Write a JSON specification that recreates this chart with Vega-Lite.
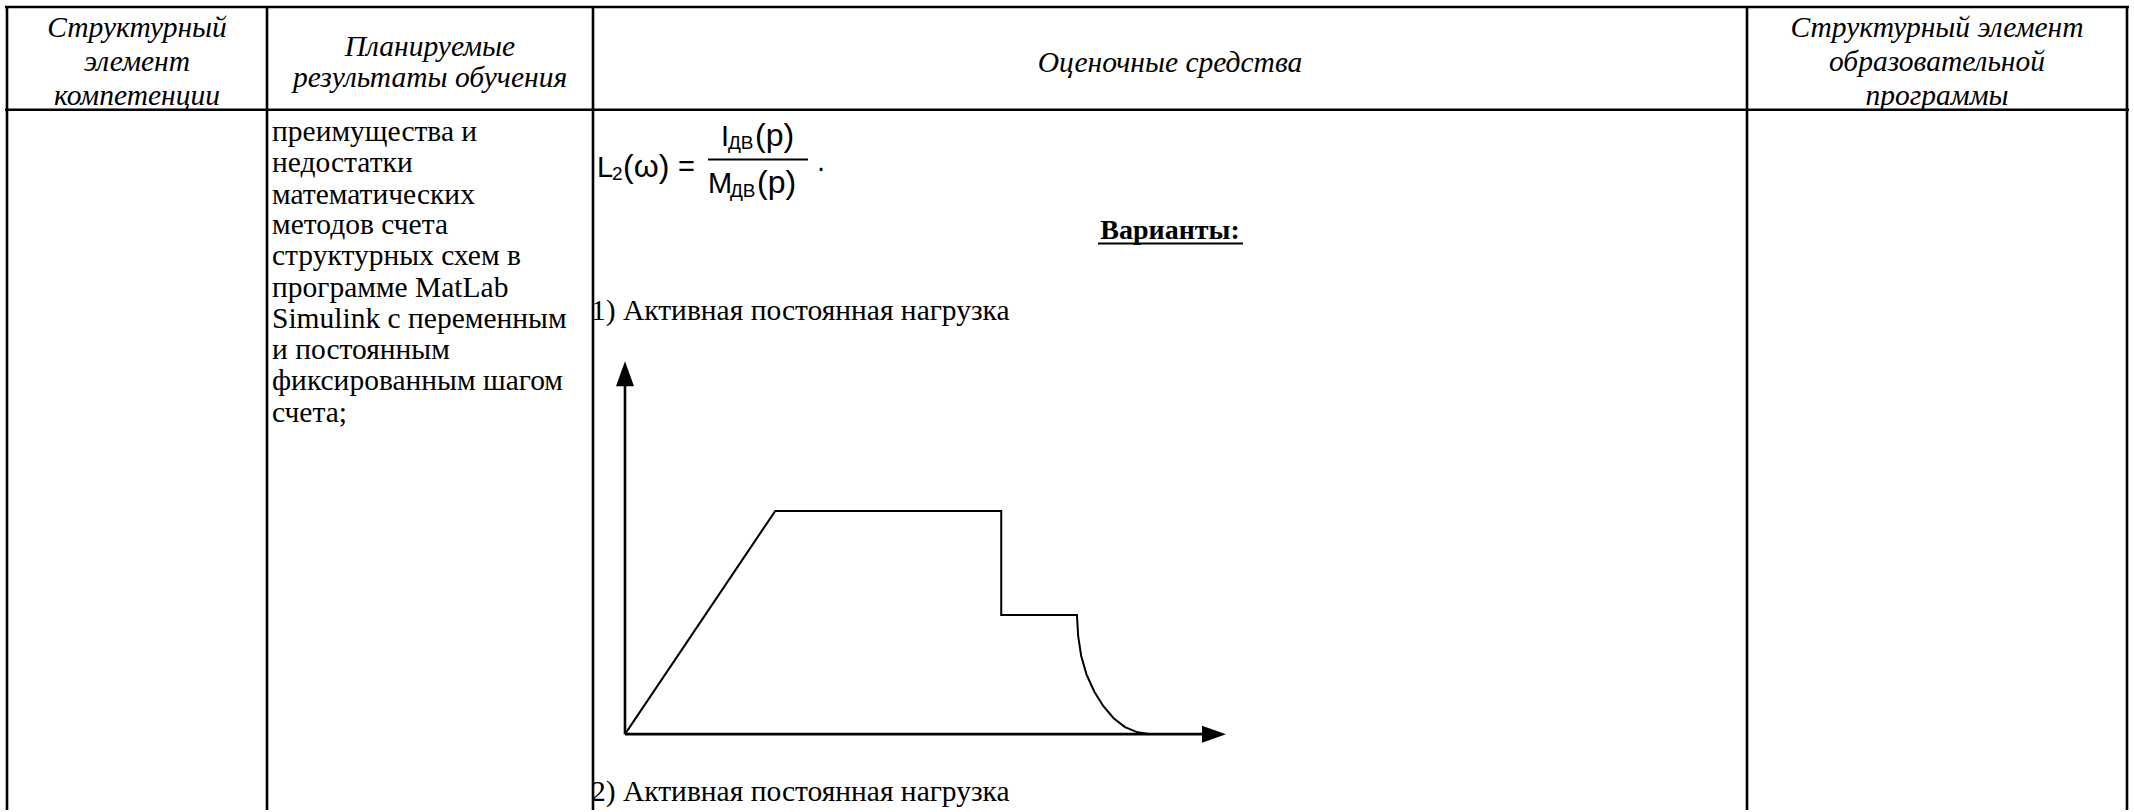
{
  "$schema": "https://vega.github.io/schema/vega-lite/v6.json",
  "width": 2134,
  "height": 812,
  "padding": 0,
  "autosize": {"type": "fit", "contains": "padding"},
  "background": "white",
  "config": {"view": {"stroke": null}},
  "datasets": {
    "borders": [
      {"x": 5, "y": 7, "x2": 2129, "y2": 7},
      {"x": 5, "y": 110, "x2": 2129, "y2": 110},
      {"x": 7, "y": 7, "x2": 7, "y2": 812},
      {"x": 267, "y": 7, "x2": 267, "y2": 812},
      {"x": 593, "y": 7, "x2": 593, "y2": 812},
      {"x": 1747, "y": 7, "x2": 1747, "y2": 812},
      {"x": 2127, "y": 7, "x2": 2127, "y2": 812}
    ],
    "strokes": [
      {"x": 1098, "y": 244, "x2": 1243, "y2": 244},
      {"x": 708, "y": 160, "x2": 808, "y2": 160}
    ],
    "texts": [
      {"role": "head", "text": "Структурный", "x": 137, "y": 28},
      {"role": "head", "text": "элемент", "x": 137, "y": 62},
      {"role": "head", "text": "компетенции", "x": 137, "y": 96},
      {"role": "head", "text": "Планируемые", "x": 430, "y": 47},
      {"role": "head", "text": "результаты обучения", "x": 430, "y": 78},
      {"role": "head", "text": "Оценочные средства", "x": 1170, "y": 63},
      {"role": "head", "text": "Структурный элемент", "x": 1937, "y": 28},
      {"role": "head", "text": "образовательной", "x": 1937, "y": 62},
      {"role": "head", "text": "программы", "x": 1937, "y": 96},
      {"role": "body", "text": "преимущества и", "x": 272, "y": 132},
      {"role": "body", "text": "недостатки", "x": 272, "y": 163},
      {"role": "body", "text": "математических", "x": 272, "y": 195},
      {"role": "body", "text": "методов счета", "x": 272, "y": 226},
      {"role": "body", "text": "структурных схем в", "x": 272, "y": 257},
      {"role": "body", "text": "программе MatLab", "x": 272, "y": 289},
      {"role": "body", "text": "Simulink с переменным", "x": 272, "y": 320},
      {"role": "body", "text": "и постоянным", "x": 272, "y": 351},
      {"role": "body", "text": "фиксированным шагом", "x": 272, "y": 382},
      {"role": "body", "text": "счета;", "x": 272, "y": 414},
      {"role": "body", "text": "1) Активная постоянная нагрузка", "x": 591, "y": 312},
      {"role": "body", "text": "2) Активная постоянная нагрузка", "x": 591, "y": 794},
      {"role": "bold", "text": "Варианты:", "x": 1170, "y": 232},
      {"role": "sans", "text": "L", "x": 597, "y": 177},
      {"role": "sub", "text": "2", "x": 612, "y": 180},
      {"role": "paren", "text": "(ω)", "x": 623, "y": 177},
      {"role": "sans", "text": "=", "x": 678, "y": 176},
      {"role": "sans", "text": "I", "x": 721, "y": 146},
      {"role": "sub", "text": "ДВ", "x": 728, "y": 149},
      {"role": "paren", "text": "(p)", "x": 755, "y": 146},
      {"role": "sans", "text": "M", "x": 708, "y": 193},
      {"role": "sub", "text": "ДВ", "x": 730, "y": 197},
      {"role": "paren", "text": "(p)", "x": 757, "y": 193},
      {"role": "sans", "text": ".", "x": 817, "y": 171}
    ],
    "load": [
      {"i": 0, "t": 0, "v": 0},
      {"i": 1, "t": 25, "v": 60},
      {"i": 2, "t": 62.6, "v": 60},
      {"i": 3, "t": 62.6, "v": 32},
      {"i": 4, "t": 75.2, "v": 32},
      {"i": 5, "t": 75.4, "v": 26.4},
      {"i": 6, "t": 75.9, "v": 21.1},
      {"i": 7, "t": 76.8, "v": 16},
      {"i": 8, "t": 78.1, "v": 11.4},
      {"i": 9, "t": 79.6, "v": 7.5},
      {"i": 10, "t": 81.3, "v": 4.3},
      {"i": 11, "t": 83.2, "v": 1.9},
      {"i": 12, "t": 85.3, "v": 0.5},
      {"i": 13, "t": 87.4, "v": 0}
    ],
    "axes": [
      {"t": 0, "v": 0, "t2": 0, "v2": 94},
      {"t": 0, "v": 0, "t2": 97, "v2": 0}
    ],
    "arrows": [
      {"axis": "y", "t": 0, "v": 96.9},
      {"axis": "x", "t": 98, "v": 0}
    ]
  },
  "layer": [
    {
      "layer": [
        {
          "data": {"name": "borders"},
          "mark": {"type": "rule", "color": "#000", "strokeWidth": 2.6},
          "encoding": {
            "x": {"field": "x", "type": "quantitative", "scale": {"domain": [0, 2134], "nice": false, "zero": false}, "axis": null},
            "y": {"field": "y", "type": "quantitative", "scale": {"domain": [0, 812], "nice": false, "zero": false, "reverse": true}, "axis": null},
            "x2": {"field": "x2"},
            "y2": {"field": "y2"}
          }
        },
        {
          "data": {"name": "strokes"},
          "mark": {"type": "rule", "color": "#000", "strokeWidth": 2},
          "encoding": {
            "x": {"field": "x", "type": "quantitative", "scale": {"domain": [0, 2134], "nice": false, "zero": false}, "axis": null},
            "y": {"field": "y", "type": "quantitative", "scale": {"domain": [0, 812], "nice": false, "zero": false, "reverse": true}, "axis": null},
            "x2": {"field": "x2"},
            "y2": {"field": "y2"}
          }
        },
        {
          "data": {"name": "texts"},
          "transform": [{"filter": "datum.role === 'head'"}],
          "mark": {"type": "text", "font": "Liberation Serif, Times New Roman, DejaVu Serif, serif", "fontStyle": "italic", "fontSize": 29.5, "align": "center", "baseline": "middle", "color": "#000"},
          "encoding": {
            "x": {"field": "x", "type": "quantitative", "scale": {"domain": [0, 2134], "nice": false, "zero": false}, "axis": null},
            "y": {"field": "y", "type": "quantitative", "scale": {"domain": [0, 812], "nice": false, "zero": false, "reverse": true}, "axis": null},
            "text": {"field": "text"}
          }
        },
        {
          "data": {"name": "texts"},
          "transform": [{"filter": "datum.role === 'body'"}],
          "mark": {"type": "text", "font": "Liberation Serif, Times New Roman, DejaVu Serif, serif", "fontSize": 29.5, "align": "left", "baseline": "middle", "color": "#000"},
          "encoding": {
            "x": {"field": "x", "type": "quantitative", "scale": {"domain": [0, 2134], "nice": false, "zero": false}, "axis": null},
            "y": {"field": "y", "type": "quantitative", "scale": {"domain": [0, 812], "nice": false, "zero": false, "reverse": true}, "axis": null},
            "text": {"field": "text"}
          }
        },
        {
          "data": {"name": "texts"},
          "transform": [{"filter": "datum.role === 'bold'"}],
          "mark": {"type": "text", "font": "Liberation Serif, Times New Roman, DejaVu Serif, serif", "fontWeight": "bold", "fontSize": 28, "align": "center", "baseline": "middle", "color": "#000"},
          "encoding": {
            "x": {"field": "x", "type": "quantitative", "scale": {"domain": [0, 2134], "nice": false, "zero": false}, "axis": null},
            "y": {"field": "y", "type": "quantitative", "scale": {"domain": [0, 812], "nice": false, "zero": false, "reverse": true}, "axis": null},
            "text": {"field": "text"}
          }
        },
        {
          "data": {"name": "texts"},
          "transform": [{"filter": "datum.role === 'sans'"}],
          "mark": {"type": "text", "font": "Liberation Sans, Arial, sans-serif", "fontSize": 29, "align": "left", "baseline": "alphabetic", "color": "#000"},
          "encoding": {
            "x": {"field": "x", "type": "quantitative", "scale": {"domain": [0, 2134], "nice": false, "zero": false}, "axis": null},
            "y": {"field": "y", "type": "quantitative", "scale": {"domain": [0, 812], "nice": false, "zero": false, "reverse": true}, "axis": null},
            "text": {"field": "text"}
          }
        },
        {
          "data": {"name": "texts"},
          "transform": [{"filter": "datum.role === 'paren'"}],
          "mark": {"type": "text", "font": "Liberation Sans, Arial, sans-serif", "fontSize": 32, "align": "left", "baseline": "alphabetic", "color": "#000"},
          "encoding": {
            "x": {"field": "x", "type": "quantitative", "scale": {"domain": [0, 2134], "nice": false, "zero": false}, "axis": null},
            "y": {"field": "y", "type": "quantitative", "scale": {"domain": [0, 812], "nice": false, "zero": false, "reverse": true}, "axis": null},
            "text": {"field": "text"}
          }
        },
        {
          "data": {"name": "texts"},
          "transform": [{"filter": "datum.role === 'sub'"}],
          "mark": {"type": "text", "font": "Liberation Sans, Arial, sans-serif", "fontSize": 19, "align": "left", "baseline": "alphabetic", "color": "#000"},
          "encoding": {
            "x": {"field": "x", "type": "quantitative", "scale": {"domain": [0, 2134], "nice": false, "zero": false}, "axis": null},
            "y": {"field": "y", "type": "quantitative", "scale": {"domain": [0, 812], "nice": false, "zero": false, "reverse": true}, "axis": null},
            "text": {"field": "text"}
          }
        }
      ]
    },
    {
      "layer": [
        {
          "data": {"name": "axes"},
          "mark": {"type": "rule", "color": "#000", "strokeWidth": 2.6},
          "encoding": {
            "x": {"field": "t", "type": "quantitative", "scale": {"domain": [-103.99, 251.08], "nice": false, "zero": false}, "axis": null},
            "y": {"field": "v", "type": "quantitative", "scale": {"domain": [-20.38, 197.32], "nice": false, "zero": false}, "axis": null},
            "x2": {"field": "t2"},
            "y2": {"field": "v2"}
          }
        },
        {
          "data": {"name": "load"},
          "mark": {"type": "line", "color": "#000", "strokeWidth": 2, "strokeJoin": "miter"},
          "encoding": {
            "x": {"field": "t", "type": "quantitative", "scale": {"domain": [-103.99, 251.08], "nice": false, "zero": false}, "axis": null},
            "y": {"field": "v", "type": "quantitative", "scale": {"domain": [-20.38, 197.32], "nice": false, "zero": false}, "axis": null},
            "order": {"field": "i", "type": "quantitative"}
          }
        },
        {
          "data": {"name": "arrows"},
          "transform": [{"filter": "datum.axis === 'y'"}],
          "mark": {"type": "point", "shape": "M0,-1L0.72,1L-0.72,1Z", "size": 625, "filled": true, "color": "#000", "opacity": 1, "strokeWidth": 0},
          "encoding": {
            "x": {"field": "t", "type": "quantitative", "scale": {"domain": [-103.99, 251.08], "nice": false, "zero": false}, "axis": null},
            "y": {"field": "v", "type": "quantitative", "scale": {"domain": [-20.38, 197.32], "nice": false, "zero": false}, "axis": null}
          }
        },
        {
          "data": {"name": "arrows"},
          "transform": [{"filter": "datum.axis === 'x'"}],
          "mark": {"type": "point", "shape": "M1,0L-1,-0.71L-1,0.71Z", "size": 576, "filled": true, "color": "#000", "opacity": 1, "strokeWidth": 0},
          "encoding": {
            "x": {"field": "t", "type": "quantitative", "scale": {"domain": [-103.99, 251.08], "nice": false, "zero": false}, "axis": null},
            "y": {"field": "v", "type": "quantitative", "scale": {"domain": [-20.38, 197.32], "nice": false, "zero": false}, "axis": null}
          }
        }
      ]
    }
  ],
  "resolve": {"scale": {"x": "independent", "y": "independent"}}
}
